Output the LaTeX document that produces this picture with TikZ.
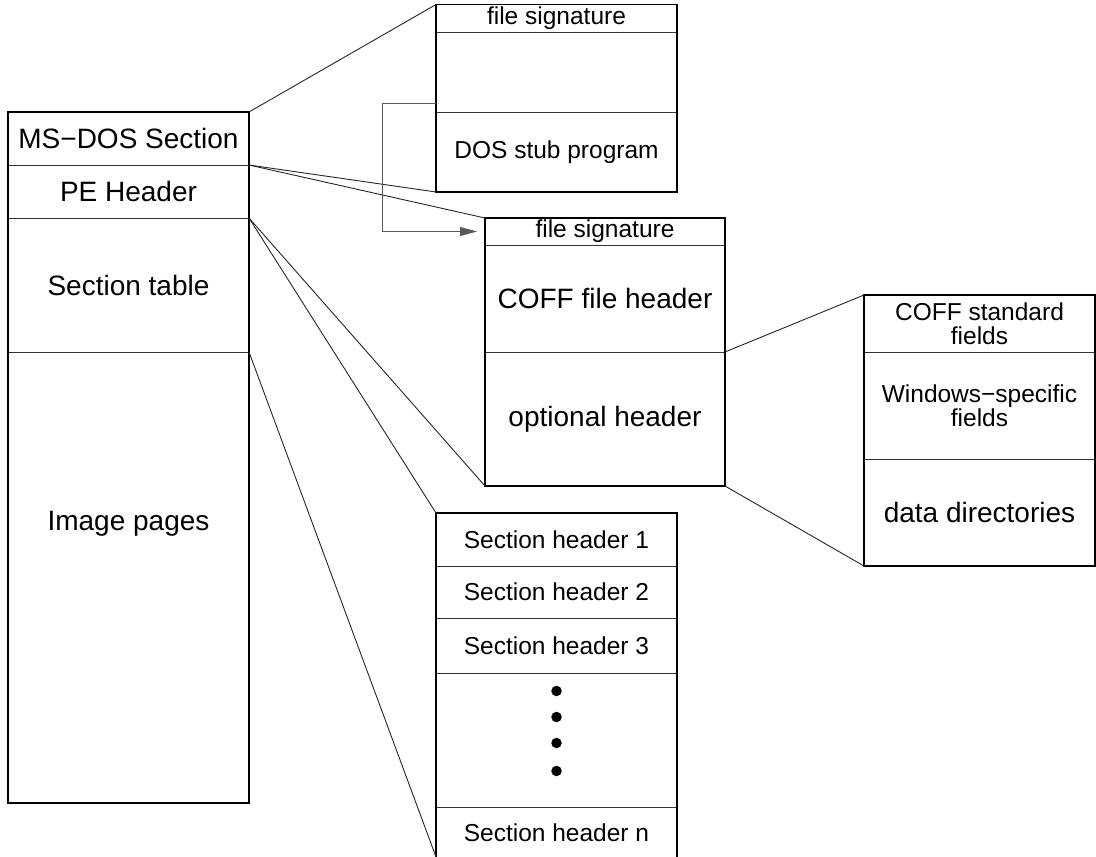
\documentclass[tikz,border=0pt]{standalone}
\usepackage{fontspec}
\setmainfont{Liberation Sans}
\usepackage{tikz}
\usetikzlibrary{arrows.meta}
\usetikzlibrary{positioning}

\begin{document}
\begin{tikzpicture}[x=1pt,y=-1pt,
  row/.style={rectangle,draw=black!80,line width=0.9pt,inner sep=0pt,outer sep=0pt,anchor=north west,align=center},
  lcol/.style={row,minimum width=241pt},
  dcol/.style={row,minimum width=241pt},
  ccol/.style={row,minimum width=240pt},
  rcol/.style={row,minimum width=231pt},
  big/.style={font=\fontsize{28}{30}\selectfont},
  small/.style={font=\fontsize{24.5}{24}\selectfont},
  outline/.style={draw=black,line width=1.8pt},
  link/.style={draw=black!85,line width=0.9pt},
  jump/.style={draw=black!65,line width=1pt,-{Triangle[length=17pt,width=9pt]}},
  dot/.style={circle,fill=black,inner sep=0pt,minimum size=10.5pt}]
\useasboundingbox (0,0) rectangle (1096,857);

% image layout
\node[lcol,big,minimum height=53pt] (msdos) at (8,112) {MS−DOS Section};
\node[lcol,big,minimum height=53pt,below=0pt of msdos] (pehdr) {PE Header};
\node[lcol,big,minimum height=134pt,below=0pt of pehdr] (sectab) {Section table};
\node[lcol,minimum height=451pt,below=0pt of sectab] (imgpages) {};
\node[big] (imglbl) at (128.5,524) {Image pages};
\draw[outline] (msdos.north west) rectangle (imgpages.south east);

% MS-DOS part
\node[dcol,small,minimum height=27.5pt] (dsig) at (436,4.5) {file signature};
\node[dcol,minimum height=80pt,below=0pt of dsig] (dempty) {};
\node[dcol,small,minimum height=80pt,below=0pt of dempty] (dstub) {DOS stub program};
\draw[outline] (dsig.north west) rectangle (dstub.south east);

% PE header
\node[ccol,small,minimum height=27pt] (csig) at (485,218) {file signature};
\node[ccol,big,minimum height=107pt,below=0pt of csig] (cfile) {COFF file header};
\node[ccol,big,minimum height=134pt,below=0pt of cfile] (copt) {optional header};
\draw[outline] (csig.north west) rectangle (copt.south east);

% optional header
\node[rcol,small,minimum height=57pt] (cstd) at (864,295) {COFF standard\\fields};
\node[rcol,small,minimum height=107pt,below=0pt of cstd] (cwin) {Windows−specific\\fields};
\node[rcol,big,minimum height=107pt,below=0pt of cwin] (cdata) {data directories};
\draw[outline] (cstd.north west) rectangle (cdata.south east);

% section table
\node[dcol,small,minimum height=53pt] (sh1) at (436,513) {Section header 1};
\node[dcol,small,minimum height=52pt,below=0pt of sh1] (sh2) {Section header 2};
\node[dcol,small,minimum height=55pt,below=0pt of sh2] (sh3) {Section header 3};
\node[dcol,minimum height=134pt,below=0pt of sh3] (sdots) {};
\node[dcol,small,minimum height=52pt,below=0pt of sdots] (shn) {Section header n};
\draw[outline] (sh1.north west) rectangle (shn.south east);
\foreach \y [count=\i] in {691,717,743,771}
  \node[dot] (dot\i) at (556.5,\y) {};

% zoom lines
\coordinate (sbot) at (436,857);
\draw[link] (msdos.north east) -- (dsig.north west);
\draw[link] (pehdr.north east) -- (dstub.south west);
\draw[link] (pehdr.north east) -- (csig.north west);
\draw[link] (sectab.north east) -- (copt.south west);
\draw[link] (sectab.north east) -- (sh1.north west);
\draw[link] (imgpages.north east) -- (sbot);
\draw[link] (cfile.south east) -- (cstd.north west);
\draw[link] (copt.south east) -- (cdata.south west);
\draw[jump] ([yshift=9pt]dstub.north west) -- ++(-54,0) |- ([xshift=-8pt]csig.west);
\end{tikzpicture}
\end{document}
